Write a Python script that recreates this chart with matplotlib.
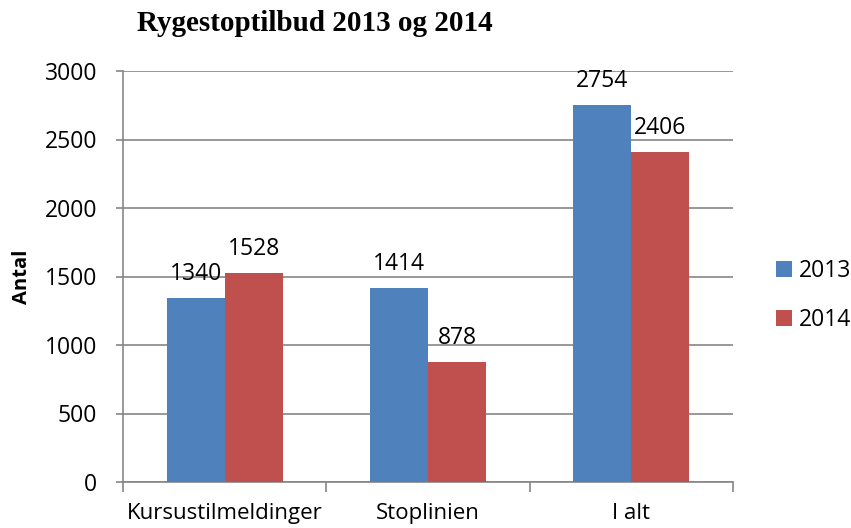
import matplotlib
matplotlib.use("Agg")
import matplotlib.pyplot as plt
import numpy as np

categories = ["Kursustilmeldinger", "Stoplinien", "I alt"]
series_names = ["2013", "2014"]
values_2013 = [1340, 1414, 2754]
values_2014 = [1528, 878, 2406]
yticks = [0, 500, 1000, 1500, 2000, 2500, 3000]

colors = ["#4F81BD", "#C0504D"]
grid_col = "#868686"
font = ["Open Sans", "DejaVu Sans"]
num_size = 16.5

fig = plt.figure(figsize=(8.51, 5.28), dpi=100)
ax = fig.add_axes([123/851, 1-482/528, (733-123)/851, (482-71)/528])

x = np.arange(len(categories))
w = 0.285
b1 = ax.bar(x - w/2, values_2013, w, color=colors[0], label=series_names[0], zorder=3)
b2 = ax.bar(x + w/2, values_2014, w, color=colors[1], label=series_names[1], zorder=3)

for bars, vals in ((b1, values_2013), (b2, values_2014)):
    for r, v in zip(bars, vals):
        ax.annotate(str(v), (r.get_x() + r.get_width()/2, r.get_height()),
                    xytext=(0, 13), textcoords="offset points", ha="center", va="baseline",
                    fontsize=num_size, family=font, color="black", zorder=4)

ax.set_xlim(-0.5, 2.5)
ax.set_ylim(0, 3000)
ax.set_yticks(yticks)
ax.set_yticklabels([str(t) for t in yticks], family=font, fontsize=num_size)
ax.yaxis.grid(True, color=grid_col, linewidth=1.2, zorder=0)
ax.set_axisbelow(True)

ax.set_xticks(x)
ax.set_xticklabels(categories, family=font, fontsize=16)
ax.set_xticks([-0.5, 0.5, 1.5, 2.5], minor=True)
ax.tick_params(axis="x", which="major", length=0, pad=15)
ax.tick_params(axis="x", which="minor", length=7, width=1.2, color=grid_col, direction="out")
ax.tick_params(axis="y", length=5, width=1.2, color=grid_col, pad=13.5)

for s in ["top", "right"]:
    ax.spines[s].set_visible(False)
for s in ["left", "bottom"]:
    ax.spines[s].set_color(grid_col)
    ax.spines[s].set_linewidth(1.2)

ax.set_ylabel("Antal", family=font, fontsize=14.5, fontweight="bold", labelpad=9)

fig.text(315/851, 1-31/528, "Rygestoptilbud 2013 og 2014", ha="center", va="baseline",
         family=["Liberation Serif", "DejaVu Serif"], fontsize=21, fontweight="bold")

leg = fig.legend(handles=[b1, b2], labels=series_names, loc="center left",
                 bbox_to_anchor=(776/851, 1-295.5/528), frameon=False,
                 borderpad=0, borderaxespad=0,
                 prop={"family": font, "size": num_size}, handlelength=0.7, handleheight=0.7,
                 handletextpad=0.3, labelspacing=1.1)

fig.savefig("out.png", dpi=100)
